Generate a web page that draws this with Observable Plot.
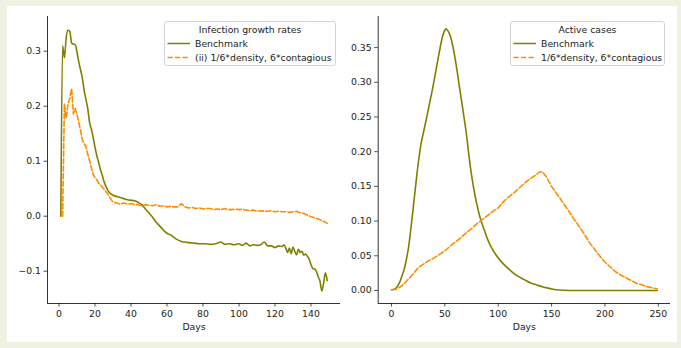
<!DOCTYPE html>
<html><head><meta charset="utf-8">
<script src="https://cdn.jsdelivr.net/npm/d3@7"></script>
<script src="https://cdn.jsdelivr.net/npm/@observablehq/plot@0.6"></script>
<style>
html,body{margin:0;padding:0;}
body{background:#eff2e2;width:681px;height:348px;overflow:hidden;position:relative;font-family:"DejaVu Sans",sans-serif;}
#panel{position:absolute;left:7px;top:6px;width:670px;height:336px;background:#fff;}
.plot{position:absolute;top:0;}
.legend{position:absolute;border:1px solid #d4d4d4;border-radius:3px;background:rgba(255,255,255,0.8);font-size:9.3px;color:#222;box-sizing:border-box;}
.legend .title{position:absolute;left:0;right:0;text-align:center;line-height:11px;white-space:nowrap;}
.legend .row{position:absolute;left:0;right:0;height:11px;line-height:11px;white-space:nowrap;}
.legend .row svg{position:absolute;left:2px;top:0;}
.legend .row span{position:absolute;left:30px;top:0;}
</style>
</head><body>
<div id="panel"></div>
<script>
// ---- Left panel: infection growth rates ----
const benchGrowthDays = [1,2,3,4,5,6,7,8,9,10,11,12,13,14,15,16,17,18,19,20,21,22,23,24,25,26,27,28,29,30,32,34,36,38,40,42,44,46,48,50,52,54,56,58,60,62,64,66,68,70,72,75,78,81,84,87,90,92,95,97,100,102,104,106,108,110,112,114,116,118,120,122,124,125,126,127,128,129,130,131,132,133,134,135,136,137,138,139,140,141,142,143,144,145,146,147,148,149];
const benchGrowth = [0.0,0.31,0.288,0.325,0.338,0.336,0.315,0.313,0.312,0.298,0.28,0.266,0.25,0.228,0.212,0.195,0.17,0.158,0.143,0.125,0.11,0.098,0.085,0.075,0.063,0.055,0.048,0.043,0.04,0.038,0.036,0.034,0.032,0.03,0.029,0.028,0.025,0.021,0.013,0.006,-0.002,-0.011,-0.018,-0.025,-0.031,-0.034,-0.039,-0.043,-0.046,-0.047,-0.048,-0.049,-0.05,-0.05,-0.051,-0.05,-0.047,-0.051,-0.05,-0.052,-0.05,-0.053,-0.049,-0.054,-0.052,-0.053,-0.052,-0.047,-0.054,-0.054,-0.057,-0.054,-0.055,-0.052,-0.058,-0.066,-0.058,-0.068,-0.056,-0.064,-0.07,-0.06,-0.066,-0.064,-0.071,-0.069,-0.073,-0.078,-0.088,-0.095,-0.096,-0.1,-0.11,-0.118,-0.136,-0.122,-0.103,-0.117];

const altGrowthDays = [2,3,4,5,6,7,8,9,10,11,12,13,14,15,16,17,18,19,20,21,22,23,24,25,26,27,28,29,30,32,34,36,38,40,42,44,46,48,50,52,54,56,58,60,62,64,66,68,70,72,74,76,78,80,82,84,86,88,90,92,94,96,98,100,102,104,106,108,110,112,114,116,118,120,122,124,126,128,130,132,134,136,138,140,142,144,146,148,149];
const altGrowth = [0.0,0.204,0.178,0.204,0.215,0.232,0.186,0.196,0.185,0.17,0.155,0.138,0.132,0.126,0.112,0.101,0.087,0.076,0.07,0.066,0.06,0.057,0.053,0.049,0.045,0.041,0.036,0.03,0.026,0.024,0.022,0.024,0.022,0.023,0.021,0.021,0.019,0.021,0.02,0.019,0.021,0.018,0.019,0.017,0.018,0.017,0.017,0.023,0.017,0.015,0.016,0.014,0.015,0.013,0.014,0.014,0.012,0.013,0.012,0.014,0.012,0.012,0.013,0.012,0.013,0.011,0.01,0.011,0.009,0.01,0.009,0.009,0.01,0.008,0.009,0.008,0.008,0.007,0.008,0.009,0.006,0.005,0.002,-0.001,-0.003,-0.005,-0.008,-0.011,-0.013];

const leftXTicks = [0,20,40,60,80,100,120,140];
const leftYTicks = [-0.1,0.0,0.1,0.2,0.3];

// ---- Right panel: active cases ----
const benchActiveDays = [0,2,4,6,8,10,12,14,16,18,20,22,24,26,28,30,32,34,36,38,40,42,44,46,48,50,51,52,54,56,58,60,62,64,66,68,70,72,74,76,78,80,82,84,87,90,94,98,102,107,112,118,124,130,136,142,148,155,162,170,249];
const benchActive = [0.001,0.0015,0.003,0.007,0.013,0.022,0.031,0.045,0.062,0.087,0.114,0.142,0.17,0.194,0.214,0.228,0.242,0.257,0.272,0.287,0.303,0.32,0.337,0.353,0.367,0.375,0.377,0.376,0.371,0.362,0.348,0.331,0.311,0.29,0.27,0.249,0.228,0.202,0.177,0.157,0.139,0.124,0.111,0.1,0.087,0.074,0.061,0.051,0.043,0.035,0.028,0.021,0.016,0.011,0.008,0.005,0.003,0.001,0.0003,0.0,0.0];

const altActiveDays = [0,5,9,12,15,18,21,24,27,30,35,40,45,50,55,60,65,70,75,80,85,90,95,100,105,110,115,120,125,130,135,138,140,142,145,150,155,160,165,170,175,180,185,190,195,200,205,210,215,220,225,230,235,240,245,249];
const altActive = [0.001,0.002,0.006,0.01,0.015,0.02,0.025,0.031,0.035,0.038,0.043,0.047,0.052,0.057,0.064,0.07,0.076,0.083,0.089,0.096,0.102,0.108,0.114,0.119,0.128,0.135,0.141,0.148,0.155,0.161,0.166,0.17,0.171,0.17,0.164,0.15,0.139,0.128,0.117,0.105,0.094,0.083,0.07,0.06,0.05,0.041,0.034,0.027,0.022,0.018,0.014,0.01,0.0078,0.0055,0.0035,0.0024];

const rightXTicks = [0,50,100,150,200,250];
const rightYTicks = [0.0,0.05,0.1,0.15,0.2,0.25,0.3,0.35];

const leftTitle = "Infection growth rates";
const leftLabels = ["Benchmark","(ii) 1/6*density, 6*contagious"];
const rightTitle = "Active cases";
const rightLabels = ["Benchmark","1/6*density, 6*contagious"];
const xLabel = "Days";

const OLIVE = "#808000", ORANGE = "#ff8c00";
const DASH = "5.2,2.3";
const zip = (xs, ys) => xs.map((x, i) => ({x, y: ys[i]}));
const baseStyle = {background: "transparent", fontFamily: "DejaVu Sans, sans-serif", fontSize: "9.3px", color: "#222", overflow: "visible"};

function panel({left, width, mLeft, mRight, xDom, yDom, xTicks, yTicks, yFmt, a, b}) {
  const svg = Plot.plot({
    width, height: 348,
    marginLeft: mLeft, marginRight: mRight, marginTop: 16, marginBottom: 45,
    x: {domain: xDom},
    y: {domain: yDom},
    style: baseStyle,
    marks: [
      Plot.axisY(yTicks, {tickFormat: yFmt, tickSize: 3.5, tickPadding: 3, strokeWidth: 0.8, label: null, fill: "#222"}),
      Plot.axisX(xTicks, {tickSize: 3.5, tickPadding: 3, strokeWidth: 0.8, label: null, fill: "#222"}),
      Plot.ruleX([xDom[0]], {stroke: "#000", strokeWidth: 0.8}),
      Plot.ruleY([yDom[0]], {stroke: "#000", strokeWidth: 0.8}),
      Plot.line(a, {x: "x", y: "y", stroke: OLIVE, strokeWidth: 1.6, curve: "monotone-x"}),
      Plot.line(b, {x: "x", y: "y", stroke: ORANGE, strokeWidth: 1.6, strokeDasharray: DASH}),
      Plot.text([xLabel], {frameAnchor: "bottom", dy: 26, text: d => d, fill: "#222", fontSize: 9.3})
    ]
  });
  svg.classList.add("plot");
  svg.style.left = left + "px";
  svg.style.position = "absolute";
  svg.style.top = "0px";
  document.body.appendChild(svg);
}

panel({left: 0, width: 345, mLeft: 47, mRight: 5,
  xDom: [-6.4, 156.4], yDom: [-0.1587, 0.3631],
  xTicks: leftXTicks, yTicks: leftYTicks, yFmt: d3.format(".1f"),
  a: zip(benchGrowthDays, benchGrowth), b: zip(altGrowthDays, altGrowth)});

panel({left: 345, width: 336, mLeft: 32.7, mRight: 11,
  xDom: [-12.45, 261.45], yDom: [-0.0188, 0.3948],
  xTicks: rightXTicks, yTicks: rightYTicks, yFmt: d3.format(".2f"),
  a: zip(benchActiveDays, benchActive), b: zip(altActiveDays, altActive)});

function legend(x, y, w, title, labels) {
  const div = document.createElement("div");
  div.className = "legend";
  Object.assign(div.style, {left: x + "px", top: y + "px", width: w + "px", height: "45px"});
  const t = document.createElement("div");
  t.className = "title"; t.style.top = "2px"; t.textContent = title;
  div.appendChild(t);
  labels.forEach((lab, i) => {
    const row = document.createElement("div");
    row.className = "row";
    row.style.top = (16 + 14 * i) + "px";
    const dash = i === 1 ? ` stroke-dasharray="${DASH}"` : "";
    row.innerHTML = `<svg width="24" height="11"><line x1="0.5" x2="23" y1="5.5" y2="5.5" stroke="${i === 0 ? OLIVE : ORANGE}" stroke-width="1.5"${dash}/></svg>`;
    const s = document.createElement("span");
    s.textContent = lab;
    row.appendChild(s);
    div.appendChild(row);
  });
  document.body.appendChild(div);
}
legend(164, 21, 172, leftTitle, leftLabels);
legend(510, 21, 155, rightTitle, rightLabels);
</script>
</body></html>
